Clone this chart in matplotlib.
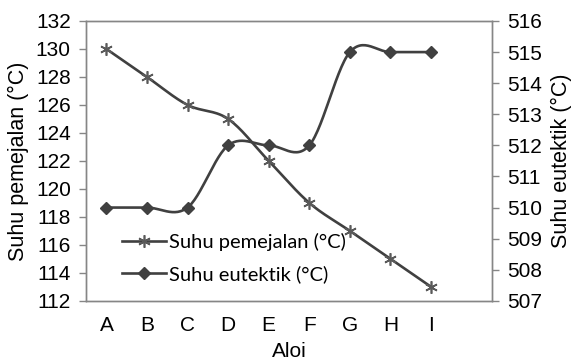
import numpy as np
from matplotlib import pyplot as plt
from matplotlib.lines import Line2D

plt.rcParams['font.family'] = ['Liberation Sans', 'DejaVu Sans']

aloi = ['A', 'B', 'C', 'D', 'E', 'F', 'G', 'H', 'I']
suhu_pemejalan = [130, 128, 126, 125, 122, 119, 117, 115, 113]
suhu_eutektik = [510, 510, 510, 512, 512, 512, 515, 515, 515]

LINE = '#404040'
SPINE = '#868686'


def smooth(x, y, n=30):
    # excel style smoothed line (catmull-rom -> bezier)
    x = np.asarray(x, float)
    y = np.asarray(y, float)
    px = np.concatenate([[x[0]], x, [x[-1]]])
    py = np.concatenate([[y[0]], y, [y[-1]]])
    out_x, out_y = [], []
    t = np.linspace(0, 1, n)
    for i in range(1, len(x)):
        p0 = np.array([px[i], py[i]])
        p3 = np.array([px[i + 1], py[i + 1]])
        c1 = p0 + (p3 - np.array([px[i - 1], py[i - 1]])) / 6
        c2 = p3 - (np.array([px[i + 2], py[i + 2]]) - p0) / 6
        b = ((1 - t) ** 3)[:, None] * p0 + (3 * (1 - t) ** 2 * t)[:, None] * c1 \
            + (3 * (1 - t) * t ** 2)[:, None] * c2 + (t ** 3)[:, None] * p3
        out_x.extend(b[:, 0])
        out_y.extend(b[:, 1])
    return np.array(out_x), np.array(out_y)


fig = plt.figure(figsize=(5.74, 3.62), dpi=100)
ax = fig.add_axes([0.150, 0.169, 0.707, 0.773])
ax2 = ax.twinx()

xpos = np.arange(len(aloi))

sx, sy = smooth(xpos, suhu_pemejalan)
ax.plot(sx, sy, color=LINE, lw=1.9, zorder=3)
ax.plot(xpos, suhu_pemejalan, ls='none', marker=(6, 2, 0), ms=9, mew=1.2,
        color='#5a5a5a', zorder=4)

ex, ey = smooth(xpos, suhu_eutektik)
ax2.plot(ex, ey, color=LINE, lw=1.9, zorder=3)
ax2.plot(xpos, suhu_eutektik, ls='none', marker='D', ms=6.5, color=LINE, zorder=4)

ax.set_xlim(-0.5, len(aloi) + 0.5)
ax.set_xticks(xpos)
ax.set_xticklabels(aloi)
ax.set_ylim(112, 132)
ax.set_yticks(np.arange(112, 133, 2))
ax2.set_ylim(507, 516)
ax2.set_yticks(np.arange(507, 517, 1))

for a in (ax, ax2):
    for s in a.spines.values():
        s.set_color(SPINE)
        s.set_linewidth(1.0)
    a.tick_params(labelsize=15, colors='black', length=5, width=1.0, color=SPINE, pad=6)
ax.tick_params(axis='x', length=0, pad=11)

ax.set_xlabel('Aloi', fontsize=15, labelpad=5)
ax.set_ylabel('Suhu pemejalan (°C)', fontsize=15.5, labelpad=5)
ax2.set_ylabel('Suhu eutektik (°C)', fontsize=15.5, labelpad=6)

handles = [
    Line2D([], [], color=LINE, lw=1.9, marker=(6, 2, 0), ms=9, mew=1.2,
           mec='#5a5a5a', mfc='#5a5a5a'),
    Line2D([], [], color=LINE, lw=1.9, marker='D', ms=6.5),
]
ax.legend(handles, ['Suhu pemejalan (°C)', 'Suhu eutektik (°C)'],
          loc='lower left', bbox_to_anchor=(0.043, 0.0), frameon=False,
          handlelength=2.2, handletextpad=0.15, labelspacing=0.7,
          prop={'family': 'Lato', 'size': 14.5})

fig.savefig('out.png', dpi=100)
